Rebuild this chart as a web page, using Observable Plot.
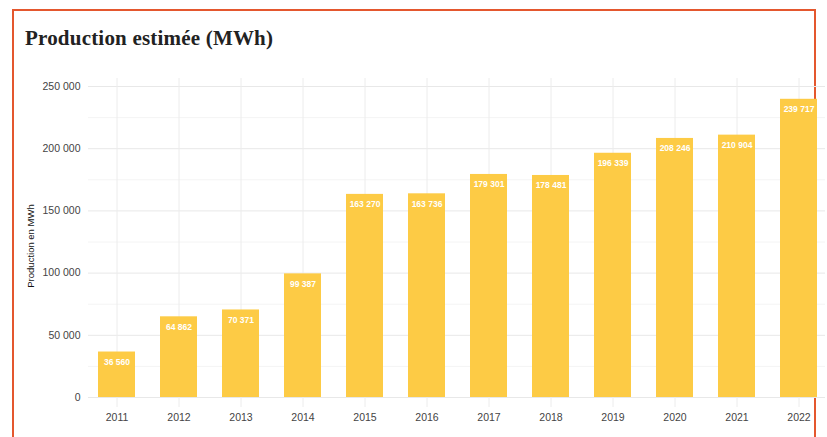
<!DOCTYPE html>
<html>
<head>
<meta charset="utf-8">
<script src="https://cdn.jsdelivr.net/npm/d3@7"></script>
<script src="https://cdn.jsdelivr.net/npm/@observablehq/plot@0.6"></script>
<style>
  html, body { margin: 0; padding: 0; background: #fff; overflow: hidden; }
  #wrap { position: relative; width: 827px; height: 437px; overflow: hidden; }
  #frame { position: absolute; left: 12px; top: 9px; width: 804px; height: 460px; border: 2px solid #e4572e; box-sizing: border-box; }
  #title { position: absolute; left: 25px; top: 26px; font-family: "Liberation Serif", serif; font-weight: bold; font-size: 21px; color: #222; letter-spacing: 0.2px; }
  #chart { position: absolute; left: 0; top: 60px; }
</style>
</head>
<body>
<div id="wrap">
  <div id="frame"></div>
  <div id="title">Production estimée (MWh)</div>
  <div id="chart"></div>
</div>
<script>
const years = ["2011","2012","2013","2014","2015","2016","2017","2018","2019","2020","2021","2022"];
const production = [36560, 64862, 70371, 99387, 163270, 163736, 179301, 178481, 196339, 208246, 210904, 239717];
const majorTicks = [0, 50000, 100000, 150000, 200000, 250000];
const minorTicks = [25000, 75000, 125000, 175000, 225000];

const data = years.map((y, i) => ({year: y, value: production[i]}));
const fmt = d3.formatLocale({decimal: ",", thousands: "\u00a0", grouping: [3], currency: ["", ""]}).format(",d");

const plot = Plot.plot({
  width: 827,
  height: 377,
  marginLeft: 91,
  marginRight: 2,
  marginTop: 26,
  marginBottom: 40,
  style: {fontFamily: "Liberation Sans, Arial, sans-serif", background: "transparent"},
  x: {type: "band", domain: years, paddingInner: 0.4, paddingOuter: 0.1, label: null},
  y: {domain: [0, 250000], label: null},
  marks: [
    Plot.ruleY(minorTicks, {y: d => d, stroke: "#f4f4f4", insetLeft: -3}),
    Plot.ruleY(majorTicks, {y: d => d, stroke: "#e8e8e8", insetLeft: -3}),
    Plot.ruleX(years, {x: d => d, stroke: "#ececec", insetTop: -8, insetBottom: -10}),
    Plot.barY(data, {x: "year", y: "value", fill: "#fdcb45"}),
    Plot.text(data, {x: "year", y: "value", text: d => fmt(d.value), fill: "white", fontWeight: "bold", fontSize: 8.5, dy: 10}),
    Plot.axisY({ticks: majorTicks, tickFormat: fmt, tickSize: 0, tickPadding: 11, fontSize: 10.5, color: "#444", label: null}),
    Plot.axisX({tickSize: 0, tickPadding: 16, fontSize: 10.5, color: "#444", label: null}),
    Plot.text(["Production en MWh"], {frameAnchor: "left", textAnchor: "middle", dx: -61, dy: 4, rotate: -90, fontSize: 9.5, fill: "#111"})
  ]
});
document.getElementById("chart").appendChild(plot);
</script>
</body>
</html>
